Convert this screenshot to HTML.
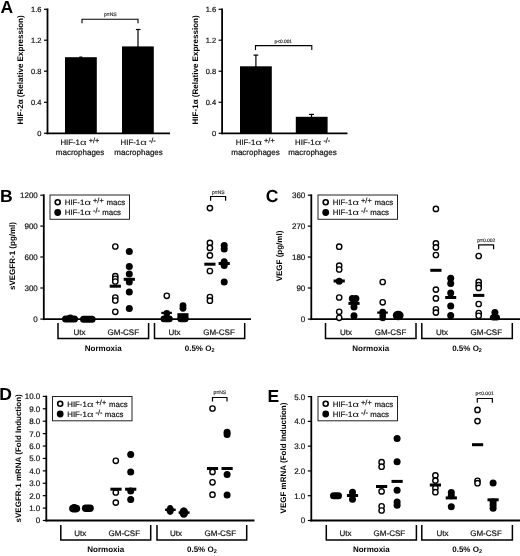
<!DOCTYPE html>
<html><head><meta charset="utf-8"><title>Figure</title>
<style>
html,body{margin:0;padding:0;background:#fff;}
body{width:520px;height:556px;overflow:hidden;font-family:'Liberation Sans', sans-serif;}
svg{display:block;font-family:"Liberation Sans",sans-serif;will-change:transform;text-rendering:geometricPrecision;}
</style></head><body>
<svg width="520" height="556" viewBox="0 0 520 556">
<rect x="0" y="0" width="520" height="556" fill="#fff"/>
<text x="0.6" y="13.2" font-size="17.5" text-anchor="start" font-weight="bold" fill="#000" >A</text>
<line x1="47.5" y1="8.5" x2="47.5" y2="134.2" stroke="#000" stroke-width="1.8" stroke-linecap="butt"/>
<line x1="46.6" y1="133.3" x2="170" y2="133.3" stroke="#000" stroke-width="1.8" stroke-linecap="butt"/>
<line x1="44.0" y1="9.3" x2="47.5" y2="9.3" stroke="#000" stroke-width="1.2" stroke-linecap="butt"/>
<text x="41.5" y="12.0" font-size="7.5" text-anchor="end" fill="#111" stroke="#111" stroke-width="0.2" >1.6</text>
<line x1="44.0" y1="40.2" x2="47.5" y2="40.2" stroke="#000" stroke-width="1.2" stroke-linecap="butt"/>
<text x="41.5" y="42.900000000000006" font-size="7.5" text-anchor="end" fill="#111" stroke="#111" stroke-width="0.2" >1.2</text>
<line x1="44.0" y1="71.2" x2="47.5" y2="71.2" stroke="#000" stroke-width="1.2" stroke-linecap="butt"/>
<text x="41.5" y="73.9" font-size="7.5" text-anchor="end" fill="#111" stroke="#111" stroke-width="0.2" >0.8</text>
<line x1="44.0" y1="102.3" x2="47.5" y2="102.3" stroke="#000" stroke-width="1.2" stroke-linecap="butt"/>
<text x="41.5" y="105.0" font-size="7.5" text-anchor="end" fill="#111" stroke="#111" stroke-width="0.2" >0.4</text>
<line x1="44.0" y1="133.3" x2="47.5" y2="133.3" stroke="#000" stroke-width="1.2" stroke-linecap="butt"/>
<text x="41.5" y="136.0" font-size="7.5" text-anchor="end" fill="#111" stroke="#111" stroke-width="0.2" >0</text>
<text x="23.4" y="69.9" font-size="8.05" text-anchor="middle" font-weight="bold" transform="rotate(-90 23.4 69.9)" fill="#000" >HIF-2α (Relative Expression)</text>
<rect x="65" y="57.2" width="31.8" height="76" fill="#000"/>
<rect x="122" y="46.4" width="31.8" height="87" fill="#000"/>
<line x1="138" y1="29.5" x2="138" y2="47" stroke="#000" stroke-width="1.2" stroke-linecap="butt"/>
<line x1="135.9" y1="29.5" x2="140.5" y2="29.5" stroke="#000" stroke-width="1.2" stroke-linecap="butt"/>
<polyline points="82,23.2 82,19.2 138,19.2 138,23.2" fill="none" stroke="#000" stroke-width="1.1"/>
<rect x="79.3" y="56.5" width="3" height="1.2" fill="#000"/>
<text x="110.3" y="16.3" font-size="5" text-anchor="middle" fill="#3a3a3a" stroke="#3a3a3a" stroke-width="0.2" >p=NS</text>
<text x="60.4" y="145" font-size="7.8" fill="#111" stroke="#111" stroke-width="0.2">HIF-1</text>
<text transform="translate(80.0 145) scale(1.45 1)" font-size="7.8" fill="#111">α</text>
<text x="88.7" y="143.1" font-size="7.3" fill="#111" stroke="#111" stroke-width="0.2">+/+</text>
<text x="80.1" y="155.2" font-size="8" text-anchor="middle" fill="#111" stroke="#111" stroke-width="0.2" >macrophages</text>
<text x="120.6" y="145" font-size="7.8" fill="#111" stroke="#111" stroke-width="0.2">HIF-1</text>
<text transform="translate(140.2 145) scale(1.45 1)" font-size="7.8" fill="#111">α</text>
<text x="148.9" y="143.1" font-size="7.3" fill="#111" stroke="#111" stroke-width="0.2">-/-</text>
<text x="138.6" y="155.2" font-size="8" text-anchor="middle" fill="#111" stroke="#111" stroke-width="0.2" >macrophages</text>
<line x1="222.1" y1="8.5" x2="222.1" y2="134.2" stroke="#000" stroke-width="1.8" stroke-linecap="butt"/>
<line x1="221.2" y1="133.3" x2="347.5" y2="133.3" stroke="#000" stroke-width="1.8" stroke-linecap="butt"/>
<line x1="218.6" y1="9.3" x2="222.1" y2="9.3" stroke="#000" stroke-width="1.2" stroke-linecap="butt"/>
<text x="216.1" y="12.0" font-size="7.5" text-anchor="end" fill="#111" stroke="#111" stroke-width="0.2" >1.6</text>
<line x1="218.6" y1="40.2" x2="222.1" y2="40.2" stroke="#000" stroke-width="1.2" stroke-linecap="butt"/>
<text x="216.1" y="42.900000000000006" font-size="7.5" text-anchor="end" fill="#111" stroke="#111" stroke-width="0.2" >1.2</text>
<line x1="218.6" y1="71.2" x2="222.1" y2="71.2" stroke="#000" stroke-width="1.2" stroke-linecap="butt"/>
<text x="216.1" y="73.9" font-size="7.5" text-anchor="end" fill="#111" stroke="#111" stroke-width="0.2" >0.8</text>
<line x1="218.6" y1="102.3" x2="222.1" y2="102.3" stroke="#000" stroke-width="1.2" stroke-linecap="butt"/>
<text x="216.1" y="105.0" font-size="7.5" text-anchor="end" fill="#111" stroke="#111" stroke-width="0.2" >0.4</text>
<line x1="218.6" y1="133.3" x2="222.1" y2="133.3" stroke="#000" stroke-width="1.2" stroke-linecap="butt"/>
<text x="216.1" y="136.0" font-size="7.5" text-anchor="end" fill="#111" stroke="#111" stroke-width="0.2" >0</text>
<text x="197.7" y="69.9" font-size="8.05" text-anchor="middle" font-weight="bold" transform="rotate(-90 197.7 69.9)" fill="#000" >HIF-1α (Relative Expression)</text>
<rect x="240" y="66.3" width="31.8" height="67" fill="#000"/>
<line x1="255.9" y1="55.1" x2="255.9" y2="67" stroke="#000" stroke-width="1.2" stroke-linecap="butt"/>
<line x1="253.5" y1="55.1" x2="258.3" y2="55.1" stroke="#000" stroke-width="1.2" stroke-linecap="butt"/>
<rect x="295.8" y="116.8" width="31.8" height="16.5" fill="#000"/>
<line x1="311.5" y1="114.4" x2="311.5" y2="117" stroke="#000" stroke-width="1.2" stroke-linecap="butt"/>
<line x1="309" y1="114.4" x2="314" y2="114.4" stroke="#000" stroke-width="1.2" stroke-linecap="butt"/>
<polyline points="255.5,50 255.5,45.6 311.8,45.6 311.8,50" fill="none" stroke="#000" stroke-width="1.1"/>
<text x="283.3" y="43" font-size="4.8" text-anchor="middle" fill="#333" stroke="#333" stroke-width="0.2" >p&lt;0.001</text>
<text x="235.8" y="145" font-size="7.8" fill="#111" stroke="#111" stroke-width="0.2">HIF-1</text>
<text transform="translate(255.4 145) scale(1.45 1)" font-size="7.8" fill="#111">α</text>
<text x="264.1" y="143.1" font-size="7.3" fill="#111" stroke="#111" stroke-width="0.2">+/+</text>
<text x="255.5" y="155.2" font-size="8" text-anchor="middle" fill="#111" stroke="#111" stroke-width="0.2" >macrophages</text>
<text x="295.1" y="145" font-size="7.8" fill="#111" stroke="#111" stroke-width="0.2">HIF-1</text>
<text transform="translate(314.70000000000005 145) scale(1.45 1)" font-size="7.8" fill="#111">α</text>
<text x="323.40000000000003" y="143.1" font-size="7.3" fill="#111" stroke="#111" stroke-width="0.2">-/-</text>
<text x="312.4" y="155.2" font-size="8" text-anchor="middle" fill="#111" stroke="#111" stroke-width="0.2" >macrophages</text>
<line x1="43.8" y1="194.3" x2="43.8" y2="320.09999999999997" stroke="#000" stroke-width="1.8" stroke-linecap="butt"/>
<line x1="40.3" y1="195.2" x2="43.8" y2="195.2" stroke="#000" stroke-width="1.2" stroke-linecap="butt"/>
<text x="37.8" y="198.1" font-size="8" text-anchor="end" fill="#111" stroke="#111" stroke-width="0.2" >1200</text>
<line x1="40.3" y1="226.1" x2="43.8" y2="226.1" stroke="#000" stroke-width="1.2" stroke-linecap="butt"/>
<text x="37.8" y="229.0" font-size="8" text-anchor="end" fill="#111" stroke="#111" stroke-width="0.2" >900</text>
<line x1="40.3" y1="257" x2="43.8" y2="257" stroke="#000" stroke-width="1.2" stroke-linecap="butt"/>
<text x="37.8" y="259.9" font-size="8" text-anchor="end" fill="#111" stroke="#111" stroke-width="0.2" >600</text>
<line x1="40.3" y1="288" x2="43.8" y2="288" stroke="#000" stroke-width="1.2" stroke-linecap="butt"/>
<text x="37.8" y="290.9" font-size="8" text-anchor="end" fill="#111" stroke="#111" stroke-width="0.2" >300</text>
<line x1="40.3" y1="319.1" x2="43.8" y2="319.1" stroke="#000" stroke-width="1.2" stroke-linecap="butt"/>
<text x="37.8" y="322.0" font-size="8" text-anchor="end" fill="#111" stroke="#111" stroke-width="0.2" >0</text>
<text x="15.1" y="256" font-size="8" text-anchor="middle" font-weight="bold" transform="rotate(-90 15.1 256)" fill="#000" >sVEGFR-1 (pg/ml)</text>
<text x="0.1" y="202" font-size="17.5" text-anchor="start" font-weight="bold" fill="#000" >B</text>
<rect x="50" y="195" width="79.5" height="24.3" fill="#fff" stroke="#222" stroke-width="1"/>
<circle cx="57.7" cy="202.3" r="2.5" fill="#fff" stroke="#000" stroke-width="1.6"/>
<circle cx="57.7" cy="212.5" r="3.4" fill="#000"/>
<text x="64.8" y="205.2" font-size="7.8" fill="#111" stroke="#111" stroke-width="0.2">HIF-1</text>
<text transform="translate(84.4 205.2) scale(1.45 1)" font-size="7.8" fill="#111">α</text>
<text x="93.1" y="203.29999999999998" font-size="7.3" fill="#111" stroke="#111" stroke-width="0.2">+/+</text>
<text x="106.6" y="205.2" font-size="7.8" fill="#111" stroke="#111" stroke-width="0.2">macs</text>
<text x="64.8" y="215.2" font-size="7.8" fill="#111" stroke="#111" stroke-width="0.2">HIF-1</text>
<text transform="translate(84.4 215.2) scale(1.45 1)" font-size="7.8" fill="#111">α</text>
<text x="93.1" y="213.29999999999998" font-size="7.3" fill="#111" stroke="#111" stroke-width="0.2">-/-</text>
<text x="102.3" y="215.2" font-size="7.8" fill="#111" stroke="#111" stroke-width="0.2">macs</text>
<line x1="42.9" y1="319.2" x2="251" y2="319.2" stroke="#000" stroke-width="1.8" stroke-linecap="butt"/>
<polyline points="58,323.0 58,338.59999999999997 148.6,338.59999999999997 148.6,323.0" fill="none" stroke="#000" stroke-width="1.5"/>
<polyline points="154.5,323.0 154.5,338.59999999999997 244.7,338.59999999999997 244.7,323.0" fill="none" stroke="#000" stroke-width="1.5"/>
<text x="79.5" y="334.7" font-size="8" text-anchor="middle" fill="#111" stroke="#111" stroke-width="0.2" >Utx</text>
<text x="123.3" y="334.7" font-size="8" text-anchor="middle" fill="#111" stroke="#111" stroke-width="0.2" >GM-CSF</text>
<text x="174.4" y="334.7" font-size="8" text-anchor="middle" fill="#111" stroke="#111" stroke-width="0.2" >Utx</text>
<text x="219" y="334.7" font-size="8" text-anchor="middle" fill="#111" stroke="#111" stroke-width="0.2" >GM-CSF</text>
<text x="103.3" y="350.7" font-size="8" text-anchor="middle" font-weight="bold" fill="#000" >Normoxia</text>
<text x="199.6" y="350.59999999999997" font-size="8" text-anchor="middle" font-weight="bold" fill="#000">0.5% O<tspan dy="1.5" font-size="5.5">2</tspan></text>
<rect x="62" y="315.6" width="16" height="7.0" rx="3.5" fill="#000"/>
<circle cx="70.2" cy="318.1" r="3.5" fill="#000"/>
<rect x="80" y="315.7" width="15.599999999999994" height="7.0" rx="3.5" fill="#000"/>
<circle cx="115.3" cy="246.5" r="2.65" fill="#fff" stroke="#000" stroke-width="1.4"/>
<circle cx="115.3" cy="276.2" r="2.65" fill="#fff" stroke="#000" stroke-width="1.4"/>
<circle cx="115.3" cy="278.8" r="2.65" fill="#fff" stroke="#000" stroke-width="1.4"/>
<circle cx="115.3" cy="281.5" r="2.65" fill="#fff" stroke="#000" stroke-width="1.4"/>
<circle cx="115.3" cy="297.5" r="2.65" fill="#fff" stroke="#000" stroke-width="1.4"/>
<circle cx="115.3" cy="300.5" r="2.65" fill="#fff" stroke="#000" stroke-width="1.4"/>
<circle cx="115.3" cy="311.8" r="2.65" fill="#fff" stroke="#000" stroke-width="1.4"/>
<rect x="109.7" y="284.7" width="11.2" height="3.0" fill="#000"/>
<circle cx="129.3" cy="251.6" r="3.5" fill="#000"/>
<circle cx="129.3" cy="266.5" r="3.5" fill="#000"/>
<circle cx="129.3" cy="274" r="3.5" fill="#000"/>
<circle cx="129.3" cy="282" r="3.5" fill="#000"/>
<circle cx="129.3" cy="292" r="3.5" fill="#000"/>
<circle cx="129.3" cy="308.6" r="3.5" fill="#000"/>
<rect x="123.70000000000002" y="277.8" width="11.2" height="3.0" fill="#000"/>
<circle cx="166.8" cy="295.8" r="2.65" fill="#fff" stroke="#000" stroke-width="1.4"/>
<rect x="160.6" y="315.59999999999997" width="12.099999999999994" height="6.6" rx="3.3" fill="#000"/>
<circle cx="166.8" cy="313.4" r="3.3" fill="#000"/>
<rect x="161.29999999999998" y="311.79999999999995" width="10.6" height="2.2" fill="#000"/>
<circle cx="183" cy="305.7" r="3.4" fill="#000"/>
<circle cx="183" cy="308.3" r="3.4" fill="#000"/>
<rect x="177.4" y="315.59999999999997" width="11.099999999999994" height="6.6" rx="3.3" fill="#000"/>
<rect x="177.4" y="313.2" width="11.1" height="5.5" fill="#000"/>
<circle cx="209.9" cy="208.1" r="2.65" fill="#fff" stroke="#000" stroke-width="1.4"/>
<circle cx="209.9" cy="242.9" r="2.65" fill="#fff" stroke="#000" stroke-width="1.4"/>
<circle cx="209.9" cy="247.9" r="2.65" fill="#fff" stroke="#000" stroke-width="1.4"/>
<circle cx="209.9" cy="255.4" r="2.65" fill="#fff" stroke="#000" stroke-width="1.4"/>
<circle cx="209.9" cy="271" r="2.65" fill="#fff" stroke="#000" stroke-width="1.4"/>
<circle cx="209.9" cy="297" r="2.65" fill="#fff" stroke="#000" stroke-width="1.4"/>
<circle cx="209.9" cy="300.7" r="2.65" fill="#fff" stroke="#000" stroke-width="1.4"/>
<rect x="204.3" y="262.7" width="11.2" height="3.0" fill="#000"/>
<circle cx="224.2" cy="245.4" r="3.5" fill="#000"/>
<circle cx="224.2" cy="249.1" r="3.5" fill="#000"/>
<circle cx="224.2" cy="261.7" r="3.5" fill="#000"/>
<circle cx="224.2" cy="265.5" r="3.5" fill="#000"/>
<circle cx="224.2" cy="281.9" r="3.5" fill="#000"/>
<rect x="218.6" y="262.0" width="11.2" height="3.0" fill="#000"/>
<polyline points="210.6,200.8 210.6,196.5 225.6,196.5 225.6,200.8" fill="none" stroke="#000" stroke-width="1.2"/>
<text x="218.3" y="193.6" font-size="5" text-anchor="middle" fill="#3a3a3a" stroke="#3a3a3a" stroke-width="0.2" >p=NS</text>
<line x1="311.3" y1="194.3" x2="311.3" y2="320.09999999999997" stroke="#000" stroke-width="1.8" stroke-linecap="butt"/>
<line x1="307.8" y1="195.2" x2="311.3" y2="195.2" stroke="#000" stroke-width="1.2" stroke-linecap="butt"/>
<text x="305.3" y="198.1" font-size="8" text-anchor="end" fill="#111" stroke="#111" stroke-width="0.2" >360</text>
<line x1="307.8" y1="226.1" x2="311.3" y2="226.1" stroke="#000" stroke-width="1.2" stroke-linecap="butt"/>
<text x="305.3" y="229.0" font-size="8" text-anchor="end" fill="#111" stroke="#111" stroke-width="0.2" >270</text>
<line x1="307.8" y1="257" x2="311.3" y2="257" stroke="#000" stroke-width="1.2" stroke-linecap="butt"/>
<text x="305.3" y="259.9" font-size="8" text-anchor="end" fill="#111" stroke="#111" stroke-width="0.2" >180</text>
<line x1="307.8" y1="288" x2="311.3" y2="288" stroke="#000" stroke-width="1.2" stroke-linecap="butt"/>
<text x="305.3" y="290.9" font-size="8" text-anchor="end" fill="#111" stroke="#111" stroke-width="0.2" >90</text>
<line x1="307.8" y1="319.1" x2="311.3" y2="319.1" stroke="#000" stroke-width="1.2" stroke-linecap="butt"/>
<text x="305.3" y="322.0" font-size="8" text-anchor="end" fill="#111" stroke="#111" stroke-width="0.2" >0</text>
<text x="282.2" y="256" font-size="8" text-anchor="middle" font-weight="bold" transform="rotate(-90 282.2 256)" fill="#000" >VEGF (pg/ml)</text>
<text x="265.7" y="202" font-size="17.5" text-anchor="start" font-weight="bold" fill="#000" >C</text>
<rect x="318" y="195" width="79.5" height="24.3" fill="#fff" stroke="#222" stroke-width="1"/>
<circle cx="325.7" cy="202.3" r="2.5" fill="#fff" stroke="#000" stroke-width="1.6"/>
<circle cx="325.7" cy="212.5" r="3.4" fill="#000"/>
<text x="332.8" y="205.2" font-size="7.8" fill="#111" stroke="#111" stroke-width="0.2">HIF-1</text>
<text transform="translate(352.40000000000003 205.2) scale(1.45 1)" font-size="7.8" fill="#111">α</text>
<text x="361.1" y="203.29999999999998" font-size="7.3" fill="#111" stroke="#111" stroke-width="0.2">+/+</text>
<text x="374.6" y="205.2" font-size="7.8" fill="#111" stroke="#111" stroke-width="0.2">macs</text>
<text x="332.8" y="215.2" font-size="7.8" fill="#111" stroke="#111" stroke-width="0.2">HIF-1</text>
<text transform="translate(352.40000000000003 215.2) scale(1.45 1)" font-size="7.8" fill="#111">α</text>
<text x="361.1" y="213.29999999999998" font-size="7.3" fill="#111" stroke="#111" stroke-width="0.2">-/-</text>
<text x="370.3" y="215.2" font-size="7.8" fill="#111" stroke="#111" stroke-width="0.2">macs</text>
<line x1="310.40000000000003" y1="319.2" x2="520" y2="319.2" stroke="#000" stroke-width="1.8" stroke-linecap="butt"/>
<polyline points="325.5,323.0 325.5,338.59999999999997 416,338.59999999999997 416,323.0" fill="none" stroke="#000" stroke-width="1.5"/>
<polyline points="421.8,323.0 421.8,338.59999999999997 512.3,338.59999999999997 512.3,323.0" fill="none" stroke="#000" stroke-width="1.5"/>
<text x="346" y="334.7" font-size="8" text-anchor="middle" fill="#111" stroke="#111" stroke-width="0.2" >Utx</text>
<text x="390.5" y="334.7" font-size="8" text-anchor="middle" fill="#111" stroke="#111" stroke-width="0.2" >GM-CSF</text>
<text x="442" y="334.7" font-size="8" text-anchor="middle" fill="#111" stroke="#111" stroke-width="0.2" >Utx</text>
<text x="486.3" y="334.7" font-size="8" text-anchor="middle" fill="#111" stroke="#111" stroke-width="0.2" >GM-CSF</text>
<text x="370.75" y="350.7" font-size="8" text-anchor="middle" font-weight="bold" fill="#000" >Normoxia</text>
<text x="467.04999999999995" y="350.59999999999997" font-size="8" text-anchor="middle" font-weight="bold" fill="#000">0.5% O<tspan dy="1.5" font-size="5.5">2</tspan></text>
<circle cx="339.2" cy="246.7" r="2.65" fill="#fff" stroke="#000" stroke-width="1.4"/>
<circle cx="339.2" cy="265.7" r="2.65" fill="#fff" stroke="#000" stroke-width="1.4"/>
<circle cx="339.2" cy="269.5" r="2.65" fill="#fff" stroke="#000" stroke-width="1.4"/>
<circle cx="339.2" cy="297.5" r="2.65" fill="#fff" stroke="#000" stroke-width="1.4"/>
<circle cx="339.2" cy="311.8" r="2.65" fill="#fff" stroke="#000" stroke-width="1.4"/>
<circle cx="339.2" cy="317.8" r="2.65" fill="#fff" stroke="#000" stroke-width="1.4"/>
<circle cx="339.2" cy="281.2" r="3.5" fill="#000"/>
<rect x="333.59999999999997" y="279.5" width="11.2" height="3.0" fill="#000"/>
<circle cx="352.3" cy="298.4" r="3.5" fill="#000"/>
<circle cx="355.9" cy="298.4" r="3.5" fill="#000"/>
<circle cx="354" cy="300.5" r="3.5" fill="#000"/>
<circle cx="354" cy="307" r="3.5" fill="#000"/>
<circle cx="354" cy="315.8" r="3.5" fill="#000"/>
<rect x="348.4" y="301.9" width="11.2" height="3.0" fill="#000"/>
<circle cx="382.7" cy="282" r="2.65" fill="#fff" stroke="#000" stroke-width="1.4"/>
<circle cx="382.7" cy="302.3" r="2.65" fill="#fff" stroke="#000" stroke-width="1.4"/>
<circle cx="382.7" cy="312.2" r="3.4" fill="#000"/>
<circle cx="382.7" cy="315.3" r="3.2" fill="#000"/>
<circle cx="382.7" cy="318" r="3.2" fill="#000"/>
<rect x="377.2" y="311.5" width="10.6" height="2.2" fill="#000"/>
<ellipse cx="398.2" cy="315.5" rx="5.4" ry="4.8" fill="#000"/>
<circle cx="435.9" cy="208.9" r="2.65" fill="#fff" stroke="#000" stroke-width="1.4"/>
<circle cx="435.9" cy="243.4" r="2.65" fill="#fff" stroke="#000" stroke-width="1.4"/>
<circle cx="435.9" cy="247.4" r="2.65" fill="#fff" stroke="#000" stroke-width="1.4"/>
<circle cx="435.9" cy="255" r="2.65" fill="#fff" stroke="#000" stroke-width="1.4"/>
<circle cx="435.9" cy="289.6" r="2.65" fill="#fff" stroke="#000" stroke-width="1.4"/>
<circle cx="435.9" cy="298.4" r="2.65" fill="#fff" stroke="#000" stroke-width="1.4"/>
<circle cx="435.9" cy="309.3" r="2.65" fill="#fff" stroke="#000" stroke-width="1.4"/>
<circle cx="435.9" cy="312.6" r="2.65" fill="#fff" stroke="#000" stroke-width="1.4"/>
<rect x="430.29999999999995" y="268.8" width="11.2" height="3.0" fill="#000"/>
<circle cx="450.7" cy="278.2" r="3.5" fill="#000"/>
<circle cx="450.7" cy="283.4" r="3.5" fill="#000"/>
<circle cx="450.7" cy="293" r="3.5" fill="#000"/>
<circle cx="450.7" cy="306" r="3.5" fill="#000"/>
<circle cx="450.7" cy="315.6" r="3.5" fill="#000"/>
<rect x="445.2" y="296.0" width="11" height="3" fill="#000"/>
<circle cx="478.7" cy="256" r="2.65" fill="#fff" stroke="#000" stroke-width="1.4"/>
<circle cx="478.7" cy="281.9" r="2.65" fill="#fff" stroke="#000" stroke-width="1.4"/>
<circle cx="478.7" cy="285.2" r="2.65" fill="#fff" stroke="#000" stroke-width="1.4"/>
<circle cx="478.7" cy="287.9" r="2.65" fill="#fff" stroke="#000" stroke-width="1.4"/>
<circle cx="478.7" cy="304" r="2.65" fill="#fff" stroke="#000" stroke-width="1.4"/>
<circle cx="478.7" cy="313" r="2.65" fill="#fff" stroke="#000" stroke-width="1.4"/>
<circle cx="478.7" cy="315.8" r="2.65" fill="#fff" stroke="#000" stroke-width="1.4"/>
<rect x="473.09999999999997" y="293.9" width="11.2" height="3.0" fill="#000"/>
<circle cx="494.9" cy="312.4" r="3.5" fill="#000"/>
<rect x="489.9" y="314.5" width="10.100000000000023" height="6" rx="3" fill="#000"/>
<polyline points="478.7,249.3 478.7,244.8 493.6,244.8 493.6,249.3" fill="none" stroke="#000" stroke-width="1.2"/>
<text x="486.3" y="242.2" font-size="5" text-anchor="middle" fill="#3a3a3a" stroke="#3a3a3a" stroke-width="0.2" >p=0.002</text>
<line x1="46.3" y1="395.7" x2="46.3" y2="521.4" stroke="#000" stroke-width="1.8" stroke-linecap="butt"/>
<line x1="42.8" y1="396.4" x2="46.3" y2="396.4" stroke="#000" stroke-width="1.2" stroke-linecap="butt"/>
<text x="40.3" y="399.29999999999995" font-size="8" text-anchor="end" fill="#111" stroke="#111" stroke-width="0.2" >10.0</text>
<line x1="42.8" y1="408.81" x2="46.3" y2="408.81" stroke="#000" stroke-width="1.2" stroke-linecap="butt"/>
<text x="40.3" y="411.71" font-size="8" text-anchor="end" fill="#111" stroke="#111" stroke-width="0.2" >9.0</text>
<line x1="42.8" y1="421.21999999999997" x2="46.3" y2="421.21999999999997" stroke="#000" stroke-width="1.2" stroke-linecap="butt"/>
<text x="40.3" y="424.11999999999995" font-size="8" text-anchor="end" fill="#111" stroke="#111" stroke-width="0.2" >8.0</text>
<line x1="42.8" y1="433.63" x2="46.3" y2="433.63" stroke="#000" stroke-width="1.2" stroke-linecap="butt"/>
<text x="40.3" y="436.53" font-size="8" text-anchor="end" fill="#111" stroke="#111" stroke-width="0.2" >7.0</text>
<line x1="42.8" y1="446.03999999999996" x2="46.3" y2="446.03999999999996" stroke="#000" stroke-width="1.2" stroke-linecap="butt"/>
<text x="40.3" y="448.93999999999994" font-size="8" text-anchor="end" fill="#111" stroke="#111" stroke-width="0.2" >6.0</text>
<line x1="42.8" y1="458.45" x2="46.3" y2="458.45" stroke="#000" stroke-width="1.2" stroke-linecap="butt"/>
<text x="40.3" y="461.34999999999997" font-size="8" text-anchor="end" fill="#111" stroke="#111" stroke-width="0.2" >5.0</text>
<line x1="42.8" y1="470.86" x2="46.3" y2="470.86" stroke="#000" stroke-width="1.2" stroke-linecap="butt"/>
<text x="40.3" y="473.76" font-size="8" text-anchor="end" fill="#111" stroke="#111" stroke-width="0.2" >4.0</text>
<line x1="42.8" y1="483.27" x2="46.3" y2="483.27" stroke="#000" stroke-width="1.2" stroke-linecap="butt"/>
<text x="40.3" y="486.16999999999996" font-size="8" text-anchor="end" fill="#111" stroke="#111" stroke-width="0.2" >3.0</text>
<line x1="42.8" y1="495.67999999999995" x2="46.3" y2="495.67999999999995" stroke="#000" stroke-width="1.2" stroke-linecap="butt"/>
<text x="40.3" y="498.5799999999999" font-size="8" text-anchor="end" fill="#111" stroke="#111" stroke-width="0.2" >2.0</text>
<line x1="42.8" y1="508.09" x2="46.3" y2="508.09" stroke="#000" stroke-width="1.2" stroke-linecap="butt"/>
<text x="40.3" y="510.98999999999995" font-size="8" text-anchor="end" fill="#111" stroke="#111" stroke-width="0.2" >1.0</text>
<line x1="42.8" y1="520.5" x2="46.3" y2="520.5" stroke="#000" stroke-width="1.2" stroke-linecap="butt"/>
<text x="40.3" y="523.4" font-size="8" text-anchor="end" fill="#111" stroke="#111" stroke-width="0.2" >0</text>
<text x="20.7" y="458.4" font-size="8" text-anchor="middle" font-weight="bold" transform="rotate(-90 20.7 458.4)" fill="#000" >sVEGFR-1 mRNA (Fold Induction)</text>
<text x="-0.7" y="399.5" font-size="17.5" text-anchor="start" font-weight="bold" fill="#000" >D</text>
<rect x="52.5" y="396.5" width="79.5" height="24.3" fill="#fff" stroke="#222" stroke-width="1"/>
<circle cx="60.2" cy="403.8" r="2.5" fill="#fff" stroke="#000" stroke-width="1.6"/>
<circle cx="60.2" cy="414.0" r="3.4" fill="#000"/>
<text x="67.3" y="406.7" font-size="7.8" fill="#111" stroke="#111" stroke-width="0.2">HIF-1</text>
<text transform="translate(86.9 406.7) scale(1.45 1)" font-size="7.8" fill="#111">α</text>
<text x="95.6" y="404.8" font-size="7.3" fill="#111" stroke="#111" stroke-width="0.2">+/+</text>
<text x="109.1" y="406.7" font-size="7.8" fill="#111" stroke="#111" stroke-width="0.2">macs</text>
<text x="67.3" y="416.7" font-size="7.8" fill="#111" stroke="#111" stroke-width="0.2">HIF-1</text>
<text transform="translate(86.9 416.7) scale(1.45 1)" font-size="7.8" fill="#111">α</text>
<text x="95.6" y="414.8" font-size="7.3" fill="#111" stroke="#111" stroke-width="0.2">-/-</text>
<text x="104.8" y="416.7" font-size="7.8" fill="#111" stroke="#111" stroke-width="0.2">macs</text>
<line x1="45.4" y1="520.5" x2="254.5" y2="520.5" stroke="#000" stroke-width="1.8" stroke-linecap="butt"/>
<polyline points="60.8,525.1 60.8,539.9 150.7,539.9 150.7,525.1" fill="none" stroke="#000" stroke-width="1.5"/>
<polyline points="157,525.1 157,539.9 246.7,539.9 246.7,525.1" fill="none" stroke="#000" stroke-width="1.5"/>
<text x="80.2" y="536.0" font-size="8" text-anchor="middle" fill="#111" stroke="#111" stroke-width="0.2" >Utx</text>
<text x="124.3" y="536.0" font-size="8" text-anchor="middle" fill="#111" stroke="#111" stroke-width="0.2" >GM-CSF</text>
<text x="176" y="536.0" font-size="8" text-anchor="middle" fill="#111" stroke="#111" stroke-width="0.2" >Utx</text>
<text x="220.3" y="536.0" font-size="8" text-anchor="middle" fill="#111" stroke="#111" stroke-width="0.2" >GM-CSF</text>
<text x="105.75" y="552.0" font-size="8" text-anchor="middle" font-weight="bold" fill="#000" >Normoxia</text>
<text x="201.85" y="551.9" font-size="8" text-anchor="middle" font-weight="bold" fill="#000">0.5% O<tspan dy="1.5" font-size="5.5">2</tspan></text>
<rect x="69.1" y="504.8" width="11.100000000000009" height="7.6" rx="3.8" fill="#000"/>
<circle cx="74.2" cy="507.8" r="3.7" fill="#000"/>
<rect x="81.9" y="504.6" width="11.899999999999991" height="7.4" rx="3.7" fill="#000"/>
<circle cx="115.8" cy="460.8" r="2.65" fill="#fff" stroke="#000" stroke-width="1.4"/>
<circle cx="115.8" cy="492.5" r="2.65" fill="#fff" stroke="#000" stroke-width="1.4"/>
<circle cx="115.8" cy="502.6" r="2.65" fill="#fff" stroke="#000" stroke-width="1.4"/>
<rect x="110.4" y="487.7" width="11.2" height="3.0" fill="#000"/>
<circle cx="130.7" cy="454.5" r="3.5" fill="#000"/>
<circle cx="130.7" cy="471.9" r="3.5" fill="#000"/>
<circle cx="130.7" cy="491" r="3.5" fill="#000"/>
<circle cx="130.7" cy="499.5" r="3.5" fill="#000"/>
<rect x="125.1" y="487.7" width="11.2" height="3.0" fill="#000"/>
<ellipse cx="170.2" cy="510" rx="3.7" ry="5.1" fill="#000"/>
<rect x="165.1" y="508.6" width="10.6" height="2.4" fill="#000"/>
<ellipse cx="183.8" cy="512.5" rx="4.3" ry="5.3" fill="#000"/>
<rect x="178.6" y="511.40000000000003" width="11" height="2.4" fill="#000"/>
<circle cx="212.5" cy="408.5" r="2.65" fill="#fff" stroke="#000" stroke-width="1.4"/>
<circle cx="212.5" cy="471.9" r="2.65" fill="#fff" stroke="#000" stroke-width="1.4"/>
<circle cx="212.5" cy="482.3" r="2.65" fill="#fff" stroke="#000" stroke-width="1.4"/>
<circle cx="212.5" cy="494.7" r="2.65" fill="#fff" stroke="#000" stroke-width="1.4"/>
<rect x="206.9" y="467.0" width="11.2" height="3.0" fill="#000"/>
<circle cx="227.1" cy="432.3" r="3.5" fill="#000"/>
<circle cx="227.1" cy="434.5" r="3.5" fill="#000"/>
<circle cx="227.1" cy="474.4" r="3.5" fill="#000"/>
<circle cx="227.1" cy="494.9" r="3.5" fill="#000"/>
<rect x="221.5" y="467.0" width="11.2" height="3.0" fill="#000"/>
<polyline points="212.5,401.6 212.5,397.5 227,397.5 227,401.6" fill="none" stroke="#000" stroke-width="1.2"/>
<text x="219.8" y="394.3" font-size="5" text-anchor="middle" fill="#3a3a3a" stroke="#3a3a3a" stroke-width="0.2" >p=NS</text>
<line x1="311.3" y1="395.90000000000003" x2="311.3" y2="521.4" stroke="#000" stroke-width="1.8" stroke-linecap="butt"/>
<line x1="307.8" y1="396.6" x2="311.3" y2="396.6" stroke="#000" stroke-width="1.2" stroke-linecap="butt"/>
<text x="305.3" y="399.5" font-size="8" text-anchor="end" fill="#111" stroke="#111" stroke-width="0.2" >5.0</text>
<line x1="307.8" y1="421.38" x2="311.3" y2="421.38" stroke="#000" stroke-width="1.2" stroke-linecap="butt"/>
<text x="305.3" y="424.28" font-size="8" text-anchor="end" fill="#111" stroke="#111" stroke-width="0.2" >4.0</text>
<line x1="307.8" y1="446.16" x2="311.3" y2="446.16" stroke="#000" stroke-width="1.2" stroke-linecap="butt"/>
<text x="305.3" y="449.06" font-size="8" text-anchor="end" fill="#111" stroke="#111" stroke-width="0.2" >3.0</text>
<line x1="307.8" y1="470.94000000000005" x2="311.3" y2="470.94000000000005" stroke="#000" stroke-width="1.2" stroke-linecap="butt"/>
<text x="305.3" y="473.84000000000003" font-size="8" text-anchor="end" fill="#111" stroke="#111" stroke-width="0.2" >2.0</text>
<line x1="307.8" y1="495.72" x2="311.3" y2="495.72" stroke="#000" stroke-width="1.2" stroke-linecap="butt"/>
<text x="305.3" y="498.62" font-size="8" text-anchor="end" fill="#111" stroke="#111" stroke-width="0.2" >1.0</text>
<line x1="307.8" y1="520.5" x2="311.3" y2="520.5" stroke="#000" stroke-width="1.2" stroke-linecap="butt"/>
<text x="305.3" y="523.4" font-size="8" text-anchor="end" fill="#111" stroke="#111" stroke-width="0.2" >0</text>
<text x="286" y="458" font-size="8" text-anchor="middle" font-weight="bold" transform="rotate(-90 286 458)" fill="#000" >VEGF mRNA (Fold Induction)</text>
<text x="267.4" y="402" font-size="17.5" text-anchor="start" font-weight="bold" fill="#000" >E</text>
<rect x="318" y="396.5" width="79.5" height="24.3" fill="#fff" stroke="#222" stroke-width="1"/>
<circle cx="325.7" cy="403.8" r="2.5" fill="#fff" stroke="#000" stroke-width="1.6"/>
<circle cx="325.7" cy="414.0" r="3.4" fill="#000"/>
<text x="332.8" y="406.7" font-size="7.8" fill="#111" stroke="#111" stroke-width="0.2">HIF-1</text>
<text transform="translate(352.40000000000003 406.7) scale(1.45 1)" font-size="7.8" fill="#111">α</text>
<text x="361.1" y="404.8" font-size="7.3" fill="#111" stroke="#111" stroke-width="0.2">+/+</text>
<text x="374.6" y="406.7" font-size="7.8" fill="#111" stroke="#111" stroke-width="0.2">macs</text>
<text x="332.8" y="416.7" font-size="7.8" fill="#111" stroke="#111" stroke-width="0.2">HIF-1</text>
<text transform="translate(352.40000000000003 416.7) scale(1.45 1)" font-size="7.8" fill="#111">α</text>
<text x="361.1" y="414.8" font-size="7.3" fill="#111" stroke="#111" stroke-width="0.2">-/-</text>
<text x="370.3" y="416.7" font-size="7.8" fill="#111" stroke="#111" stroke-width="0.2">macs</text>
<line x1="310.40000000000003" y1="520.5" x2="520" y2="520.5" stroke="#000" stroke-width="1.8" stroke-linecap="butt"/>
<polyline points="326.3,525.1 326.3,539.9 416.4,539.9 416.4,525.1" fill="none" stroke="#000" stroke-width="1.5"/>
<polyline points="421.8,525.1 421.8,539.9 512.4,539.9 512.4,525.1" fill="none" stroke="#000" stroke-width="1.5"/>
<text x="345.5" y="536.0" font-size="8" text-anchor="middle" fill="#111" stroke="#111" stroke-width="0.2" >Utx</text>
<text x="389.4" y="536.0" font-size="8" text-anchor="middle" fill="#111" stroke="#111" stroke-width="0.2" >GM-CSF</text>
<text x="442.4" y="536.0" font-size="8" text-anchor="middle" fill="#111" stroke="#111" stroke-width="0.2" >Utx</text>
<text x="486" y="536.0" font-size="8" text-anchor="middle" fill="#111" stroke="#111" stroke-width="0.2" >GM-CSF</text>
<text x="371.35" y="552.0" font-size="8" text-anchor="middle" font-weight="bold" fill="#000" >Normoxia</text>
<text x="467.1" y="551.9" font-size="8" text-anchor="middle" font-weight="bold" fill="#000">0.5% O<tspan dy="1.5" font-size="5.5">2</tspan></text>
<rect x="330" y="492.3" width="12" height="7.0" rx="3.5" fill="#000"/>
<circle cx="352.5" cy="492.2" r="3.5" fill="#000"/>
<circle cx="352.5" cy="499.2" r="3.5" fill="#000"/>
<rect x="346.9" y="494.0" width="11.2" height="3.0" fill="#000"/>
<circle cx="381.6" cy="462.2" r="2.65" fill="#fff" stroke="#000" stroke-width="1.4"/>
<circle cx="381.6" cy="466.7" r="2.65" fill="#fff" stroke="#000" stroke-width="1.4"/>
<circle cx="381.6" cy="491.4" r="2.65" fill="#fff" stroke="#000" stroke-width="1.4"/>
<circle cx="381.6" cy="506.3" r="2.65" fill="#fff" stroke="#000" stroke-width="1.4"/>
<circle cx="381.6" cy="510.5" r="2.65" fill="#fff" stroke="#000" stroke-width="1.4"/>
<rect x="376.0" y="485.0" width="11.2" height="3.0" fill="#000"/>
<circle cx="397.1" cy="438.6" r="3.5" fill="#000"/>
<circle cx="397.1" cy="461.7" r="3.5" fill="#000"/>
<circle cx="397.1" cy="490.3" r="3.5" fill="#000"/>
<circle cx="397.1" cy="502" r="3.5" fill="#000"/>
<circle cx="397.1" cy="505.2" r="3.5" fill="#000"/>
<rect x="391.5" y="479.9" width="11.2" height="3.0" fill="#000"/>
<circle cx="435.4" cy="475.4" r="2.65" fill="#fff" stroke="#000" stroke-width="1.4"/>
<circle cx="435.4" cy="480.6" r="2.65" fill="#fff" stroke="#000" stroke-width="1.4"/>
<circle cx="435.4" cy="488" r="2.65" fill="#fff" stroke="#000" stroke-width="1.4"/>
<circle cx="435.4" cy="492.2" r="2.65" fill="#fff" stroke="#000" stroke-width="1.4"/>
<rect x="429.79999999999995" y="483.5" width="11.2" height="3.0" fill="#000"/>
<circle cx="451.3" cy="492.5" r="3.5" fill="#000"/>
<circle cx="451.3" cy="495.7" r="3.5" fill="#000"/>
<circle cx="451.3" cy="506.7" r="3.5" fill="#000"/>
<rect x="445.7" y="496.4" width="11.2" height="3.0" fill="#000"/>
<circle cx="477.5" cy="409.9" r="2.65" fill="#fff" stroke="#000" stroke-width="1.4"/>
<circle cx="477.5" cy="421.1" r="2.65" fill="#fff" stroke="#000" stroke-width="1.4"/>
<circle cx="477.5" cy="480.8" r="2.65" fill="#fff" stroke="#000" stroke-width="1.4"/>
<circle cx="477.5" cy="483.2" r="2.65" fill="#fff" stroke="#000" stroke-width="1.4"/>
<rect x="472.0" y="443.2" width="11.2" height="3.0" fill="#000"/>
<circle cx="493.1" cy="483" r="3.5" fill="#000"/>
<circle cx="493.1" cy="502" r="3.5" fill="#000"/>
<circle cx="493.1" cy="505" r="3.5" fill="#000"/>
<circle cx="493.1" cy="508.3" r="3.5" fill="#000"/>
<rect x="487.5" y="498.3" width="11.2" height="3.0" fill="#000"/>
<polyline points="477.3,402.8 477.3,398.5 492.4,398.5 492.4,402.8" fill="none" stroke="#000" stroke-width="1.2"/>
<text x="484.6" y="395.1" font-size="5" text-anchor="middle" fill="#3a3a3a" stroke="#3a3a3a" stroke-width="0.2" >p&lt;0.001</text>
</svg>
</body></html>
